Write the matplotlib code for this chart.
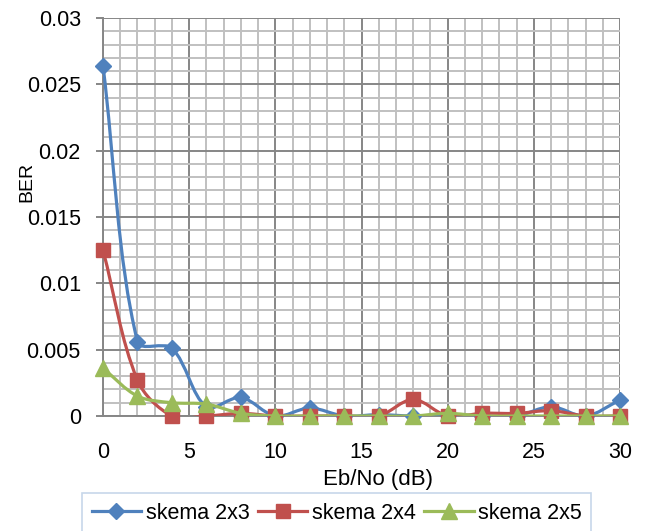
import numpy as np
import matplotlib
matplotlib.use("Agg")
from matplotlib import pyplot as plt
from matplotlib.path import Path
from matplotlib.patches import PathPatch
from matplotlib.lines import Line2D
from matplotlib.ticker import MultipleLocator

# data
ebno = [0, 2, 4, 6, 8, 10, 12, 14, 16, 18, 20, 22, 24, 26, 28, 30]
ber_2x3 = [0.0264, 0.0056, 0.0051, 0.0007, 0.0014, 0.0, 0.0006, 0.0, 0.0001, 0.0,
           0.0001, 0.0, 0.0, 0.0007, 0.0, 0.0012]
ber_2x4 = [0.0125, 0.0027, 0.0, 0.0, 0.0002, 0.0, 0.0, 0.0, 0.0, 0.00125,
           0.0, 0.0002, 0.0002, 0.0004, 0.0, 0.0]
ber_2x5 = [0.0036, 0.0015, 0.001, 0.0009, 0.0002, 0.0, 0.0, 0.0, 0.0, 0.0,
           0.0002, 0.0, 0.0, 0.0, 0.0, 0.0]
labels = ['skema 2x3', 'skema 2x4', 'skema 2x5']
colors = ['#4F81BD', '#C0504D', '#9BBB59']
markers = ['D', 's', '^']
msizes = [8, 10, 11]

plt.rcParams['font.family'] = ['Liberation Sans', 'DejaVu Sans']

W, H = 645, 531
fig = plt.figure(figsize=(W / 100, H / 100), dpi=100)
ax = fig.add_axes([103 / W, 1 - 416 / H, (620 - 103) / W, (416 - 18) / H])
ax.set_xlim(0, 30)
ax.set_ylim(0, 0.03)


def smooth_path(xs, ys):
    # excel-like smoothed line, control points worked out in screen space
    pts = ax.transData.transform(np.column_stack([xs, ys]))
    n = len(pts)
    f = 1.0 / 6.0
    verts = [pts[0]]
    codes = [Path.MOVETO]
    d = [np.hypot(*(pts[i + 1] - pts[i])) for i in range(n - 1)]
    for i in range(n - 1):
        p0, p1 = pts[i], pts[i + 1]
        if i == 0:
            c1 = p0 + (p1 - p0) / 3.0
        else:
            s = 2 * d[i] / (d[i - 1] + d[i]) if (d[i - 1] + d[i]) > 0 else 0
            c1 = p0 + (p1 - pts[i - 1]) * f * s
        if i == n - 2:
            c2 = p1 - (p1 - p0) / 3.0
        else:
            s = 2 * d[i] / (d[i] + d[i + 1]) if (d[i] + d[i + 1]) > 0 else 0
            c2 = p1 - (pts[i + 2] - p0) * f * s
        verts += [c1, c2, p1]
        codes += [Path.CURVE4] * 3
    verts = ax.transData.inverted().transform(np.array(verts))
    return Path(verts, codes)


series = [ber_2x3, ber_2x4, ber_2x5]
for k, ys in enumerate(series):
    ax.add_patch(PathPatch(smooth_path(ebno, ys), facecolor='none', edgecolor=colors[k],
                           lw=2.3, zorder=3 + k, capstyle='round', joinstyle='round'))
    ax.plot(ebno, ys, ls='none', marker=markers[k], ms=msizes[k], color=colors[k],
            mec=colors[k], zorder=3 + k, clip_on=False)

# grid
ax.xaxis.set_major_locator(MultipleLocator(5))
ax.xaxis.set_minor_locator(MultipleLocator(1))
ax.yaxis.set_major_locator(MultipleLocator(0.005))
ax.yaxis.set_minor_locator(MultipleLocator(0.001))
ax.grid(which='minor', color='#C0C0C0', lw=1.4, zorder=0)
ax.grid(which='major', color='#868686', lw=1.4, zorder=1)
ax.set_axisbelow(True)
for sp in ['top', 'right']:
    ax.spines[sp].set_visible(False)
ax.spines['left'].set_color('#868686')
ax.spines['bottom'].set_color('#868686')
ax.spines['left'].set_linewidth(1.4)
ax.spines['bottom'].set_linewidth(1.4)

ax.tick_params(axis='y', which='major', length=5, width=1.4, color='#868686', pad=11,
               labelsize=15.5)
ax.tick_params(axis='y', which='minor', length=0)
ax.tick_params(axis='x', which='both', length=0, pad=19, labelsize=15.5)
ax.set_yticks(np.arange(0, 0.0301, 0.005))
ax.set_yticklabels(['0', '0.005', '0.01', '0.015', '0.02', '0.025', '0.03'])

fig.text(27 / W, 1 - 182 / H, 'BER', rotation=90, ha='center', va='center', fontsize=14)
fig.text(378 / W, 1 - 479 / H, 'Eb/No (dB)', ha='center', va='center', fontsize=16)

handles = [Line2D([], [], color=colors[k], lw=2.3, marker=markers[k], ms=msizes[k])
           for k in range(3)]
leg = fig.legend(handles, labels, loc='upper left', bbox_to_anchor=(82 / W, 1 - 493 / H),
                 ncol=3, fontsize=15.5, frameon=True, fancybox=False, borderaxespad=0,
                 handlelength=2.3, handletextpad=0.2, columnspacing=0.4, borderpad=0.45)
leg.get_frame().set_edgecolor('#B9CDE5')
leg.get_frame().set_linewidth(1.2)

fig.savefig('out.png', dpi=100)
